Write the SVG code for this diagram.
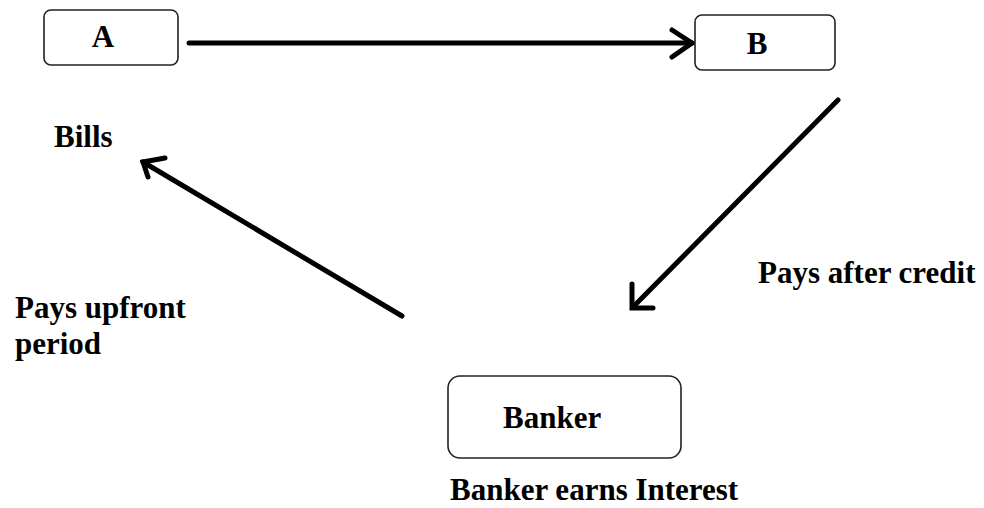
<svg xmlns="http://www.w3.org/2000/svg" width="984" height="508" viewBox="0 0 984 508">
<style>
.box{fill:#fff;stroke:#222;stroke-width:1.6}
.t{font-family:"Liberation Serif","Times New Roman",serif;font-weight:bold;font-size:31px;fill:#000}
.c{fill:none;stroke:#000;stroke-width:5;stroke-linecap:round;stroke-linejoin:miter}
</style>
<rect width="984" height="508" fill="#fff"/>
<g id="connectors">
<line class="c" x1="189" y1="43" x2="692" y2="43"/>
<polyline class="c" points="672,30 692,43 672,57"/>
<line class="c" x1="838" y1="100" x2="633" y2="307"/>
<polyline class="c" points="632,284 632,308 653,308"/>
<line class="c" x1="402" y1="316" x2="143" y2="162"/>
<polyline class="c" points="165,158 143,162 148,177"/>
</g>
<g id="A">
<rect class="box" x="44" y="10" width="134" height="55" rx="7"/>
<text class="t" x="103" y="47" text-anchor="middle">A</text>
</g>
<g id="B">
<rect class="box" x="695" y="15" width="140" height="55" rx="7"/>
<text class="t" x="757" y="54" text-anchor="middle">B</text>
</g>
<g id="Banker">
<rect class="box" x="448" y="376" width="233" height="82" rx="12"/>
<text class="t" x="503" y="428">Banker</text>
</g>
<g id="labels">
<text class="t" x="54" y="147">Bills</text>
<text class="t" x="758" y="283">Pays after credit</text>
<text class="t" x="15" y="318">Pays upfront</text>
<text class="t" x="15" y="354">period</text>
<text class="t" x="450" y="500">Banker earns Interest</text>
</g>
</svg>
